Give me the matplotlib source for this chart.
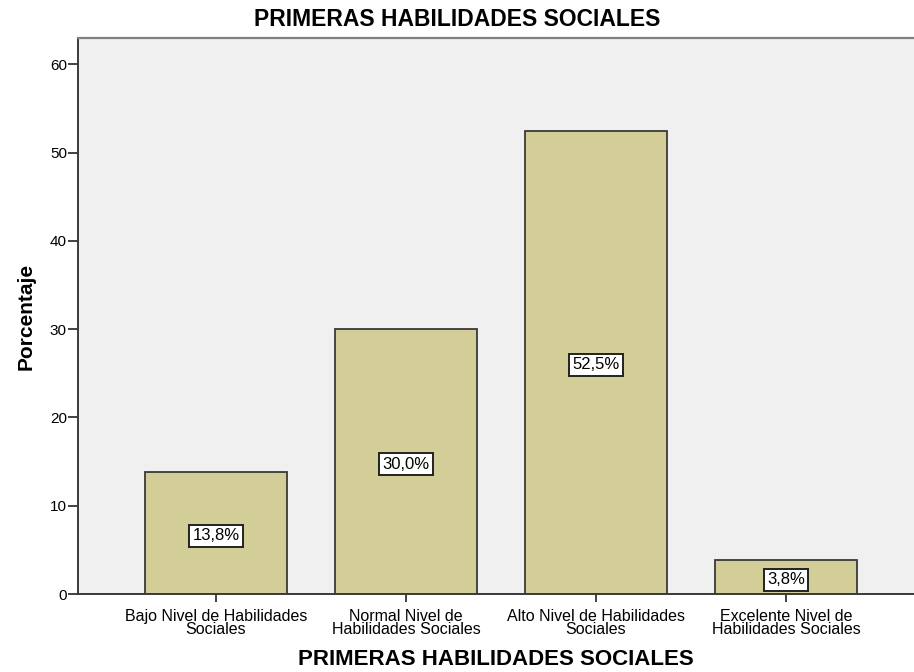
import numpy as np
import matplotlib.pyplot as plt

plt.rcParams['font.family'] = ['Liberation Sans', 'DejaVu Sans']

# data
categories = ['Bajo Nivel de Habilidades\nSociales',
              'Normal Nivel de\nHabilidades Sociales',
              'Alto Nivel de Habilidades\nSociales',
              'Excelente Nivel de\nHabilidades Sociales']
percentages = [13.8, 30.0, 52.5, 3.8]
bar_labels = ['13,8%', '30,0%', '52,5%', '3,8%']
y_ticks = [0, 10, 20, 30, 40, 50, 60]

W, H = 914, 672
fig = plt.figure(figsize=(W / 100, H / 100), dpi=100)
ax = fig.add_axes([78 / W, 1 - 594 / H, (914 - 78) / W, (594 - 38) / H])
ax.set_facecolor('#F0F0F0')

x = np.arange(len(categories))
ax.bar(x, percentages, width=0.747, color='#D3CE97', edgecolor='#3A3A3A', linewidth=1.3, zorder=2)

# value boxes sit a little under mid-height, like SPSS does
for xi, v, lab in zip(x, percentages, bar_labels):
    ax.text(xi, v / 2 - 0.3, lab, ha='center', va='center', fontsize=12, zorder=3,
            bbox=dict(boxstyle='square,pad=0.2', facecolor='white', edgecolor='#222222', linewidth=1.4))

ax.set_xlim(-0.726, 3.674)
ax.set_ylim(0, 63)
ax.set_yticks(y_ticks)
ax.set_xticks(x)
ax.set_xticklabels(categories, fontsize=11.5, linespacing=0.8)
ax.tick_params(axis='y', labelsize=11, length=7, width=1.3, color='#333333', pad=1)
ax.tick_params(axis='x', length=6, width=1.3, color='#333333', pad=5)

for s in ['left', 'bottom']:
    ax.spines[s].set_color('#3A3A3A')
    ax.spines[s].set_linewidth(1.4)
ax.spines['top'].set_color('#808080')
ax.spines['top'].set_linewidth(1.6)
ax.spines['right'].set_visible(False)

ax.set_ylabel('Porcentaje', fontsize=15, fontweight='bold', labelpad=10)
ax.set_xlabel('PRIMERAS HABILIDADES SOCIALES', fontsize=16, fontweight='bold', labelpad=9)
fig.text(457 / W, 1 - 19 / H, 'PRIMERAS HABILIDADES SOCIALES', ha='center', va='center',
         fontsize=16.5, fontweight='bold')

plt.savefig('out.png', dpi=100)
